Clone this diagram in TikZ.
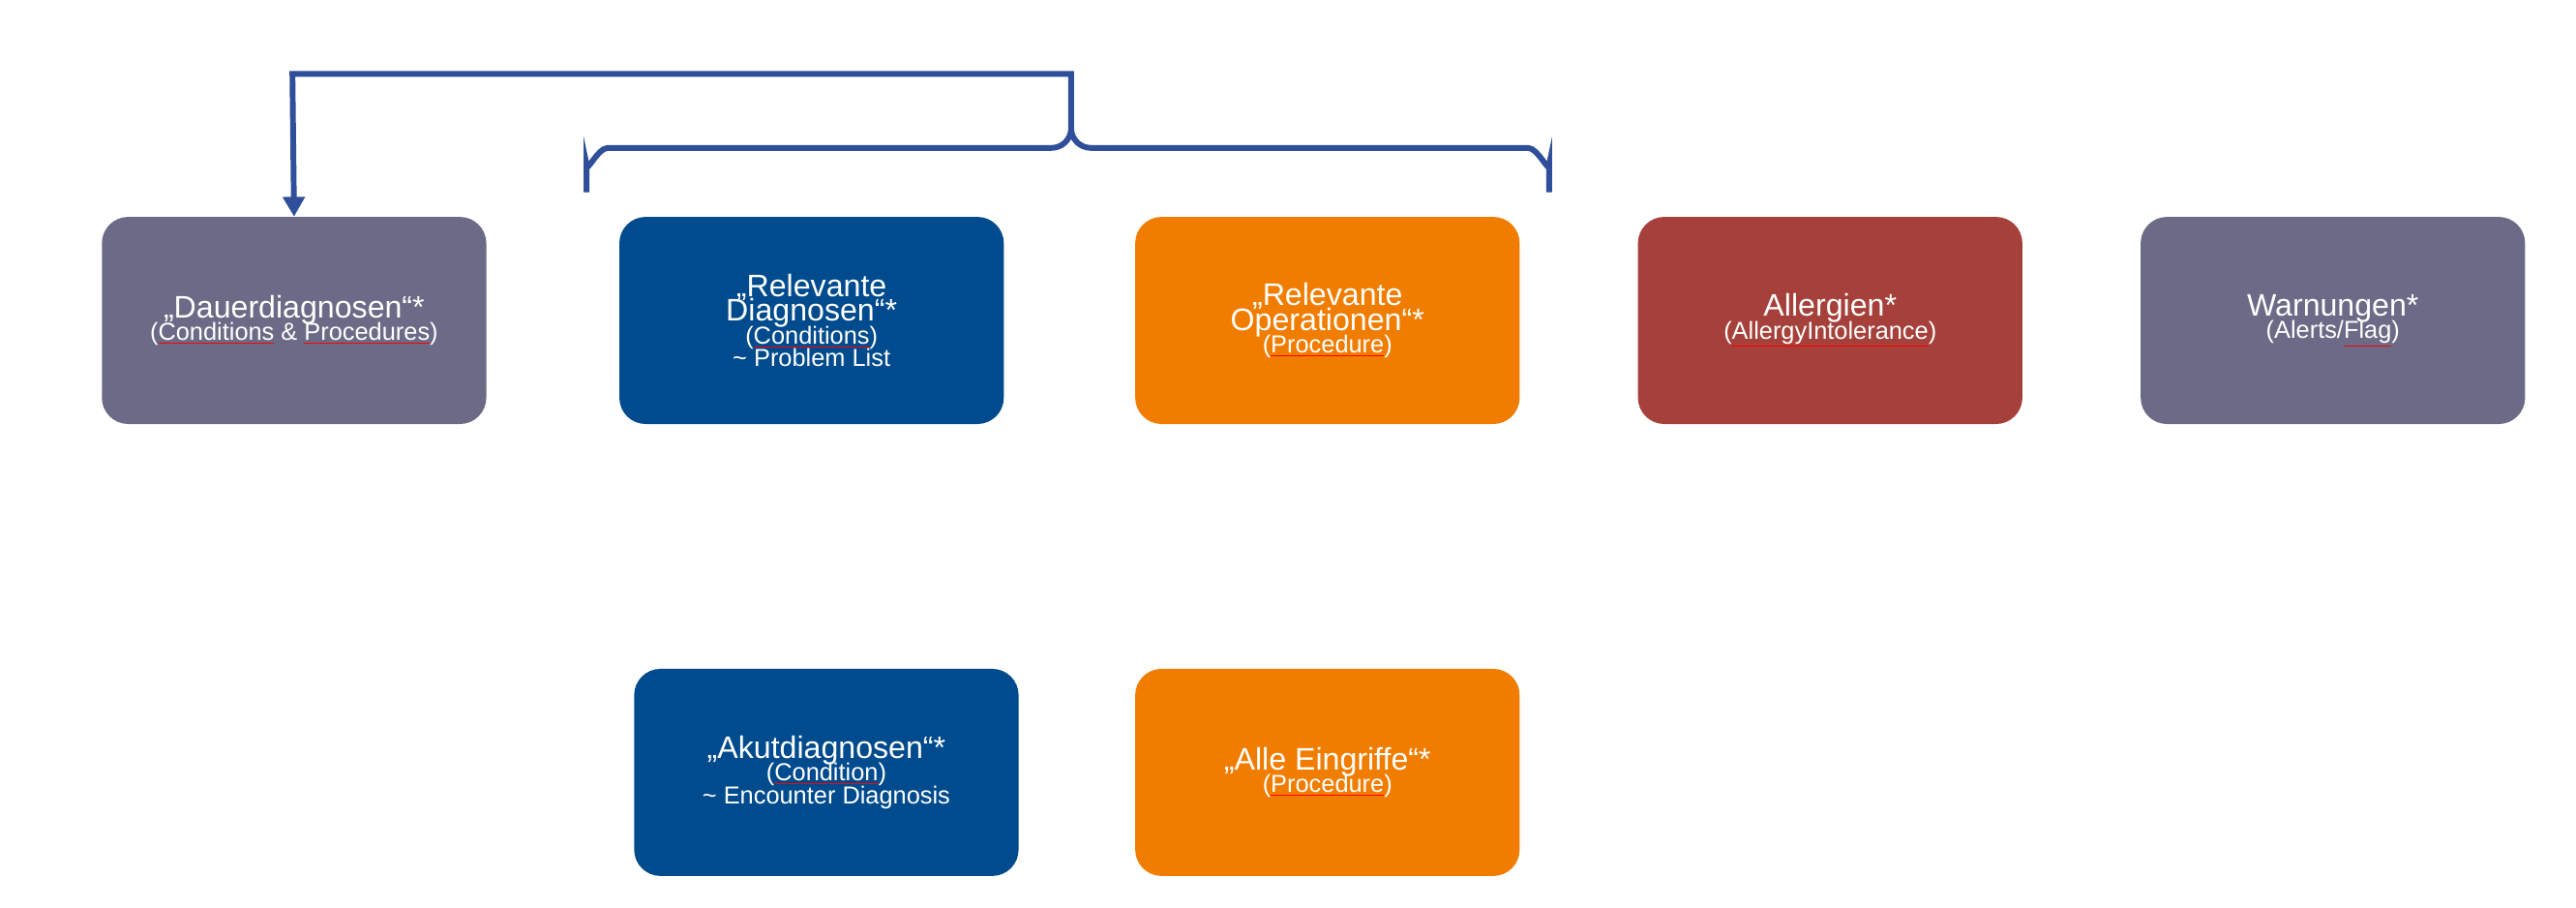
\documentclass[tikz,border=0pt]{standalone}
\usepackage{fontspec}
\setmainfont{Liberation Sans}
\usetikzlibrary{arrows.meta}
\definecolor{cgray}{HTML}{6B6B87}
\definecolor{cblue}{HTML}{004B8D}
\definecolor{corange}{HTML}{F07D00}
\definecolor{cred}{HTML}{A5403A}
\definecolor{cline}{HTML}{2F4F9A}
\newcommand{\sq}[1]{\textcolor{red}{\underline{\textcolor{white}{#1}}}}
\newcommand{\ttl}{\fontsize{19}{22}\selectfont}
\newcommand{\sbt}{\fontsize{15}{18}\selectfont}
\begin{document}
\begin{tikzpicture}[x=1bp,y=-1bp,
 box/.style={rounded corners=16bp,minimum width=234bp,minimum height=126bp,text=white,align=center,inner sep=0pt},
 brace/.style={draw=cline,line width=3.5bp}]
\useasboundingbox (0,0) rectangle (1568,552);
\node[box,fill=cgray] (dauer) at (179,195) {\ttl „Dauerdiagnosen“*\\[-2pt]\sbt(\sq{Conditions} \& \sq{Procedures})};
\node[box,fill=cblue] (reld) at (494,195) {\ttl „Relevante\\[-2pt]\ttl Diagnosen“*\\[-2pt]\sbt(\sq{Conditions})\\[-1pt]\sbt \textasciitilde{} Problem List};
\node[box,fill=corange] (relo) at (808,195) {\ttl „Relevante\\[-2pt]\ttl Operationen“*\\[-2pt]\sbt(\sq{Procedure})};
\node[box,fill=cred] (allerg) at (1114,195) {\ttl Allergien*\\[-2pt]\sbt(\sq{AllergyIntolerance})};
\node[box,fill=cgray] (warn) at (1420,195) {\ttl Warnungen*\\[-2pt]\sbt(Alerts/\sq{Flag})};
\node[box,fill=cblue] (akut) at (503,470) {\ttl „Akutdiagnosen“*\\[-2pt]\sbt(\sq{Condition})\\[-1pt]\sbt \textasciitilde{} Encounter Diagnosis};
\node[box,fill=corange] (alle) at (808,470) {\ttl „Alle Eingriffe“*\\[-2pt]\sbt(\sq{Procedure})};
\coordinate (bl) at (357,117);
\coordinate (br) at (943,117);
\coordinate (bc) at (652,78);
\coordinate (top) at (652,45);
\coordinate (corner) at (178,45);
\draw[brace] (bl) -- (357,100) to[out=-90,in=180] (370,90) -- (640,90) to[out=0,in=-90] (bc) to[out=-90,in=180] (664,90) -- (930,90) to[out=0,in=-90] (943,100) -- (br);
\draw[brace,-{Triangle[length=12bp,width=13bp]}] (bc) -- (top) -- (corner) -- (dauer.north);
\end{tikzpicture}
\end{document}
